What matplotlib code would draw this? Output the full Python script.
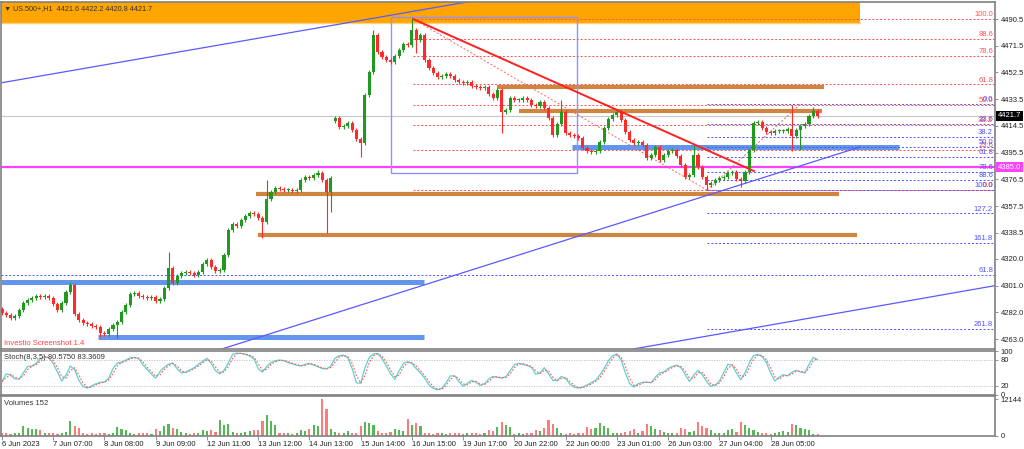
import numpy as np
import pandas as pd
import matplotlib
matplotlib.use("Agg")
import matplotlib.pyplot as plt
from matplotlib.patches import Rectangle
from matplotlib.transforms import blended_transform_factory

plt.rcParams['font.family'] = ['Liberation Sans', 'DejaVu Sans']

# ---------------- data (2-hour candles, US.500+) ----------------
closes = [4281.5, 4280.1, 4277.9, 4279.4, 4283.6, 4288.6, 4290.7, 4292.2, 4293.6, 4292.9,
          4293.6, 4292.2, 4287.9, 4283.6, 4288.6, 4296.4, 4301.4, 4280.8, 4276.5, 4274.4,
          4273.7, 4272.2, 4271.5, 4267.3, 4266.6, 4270.1, 4273.0, 4275.1, 4282.2, 4287.2,
          4295.0, 4295.7, 4293.6, 4292.9, 4292.2, 4292.9, 4290.0, 4291.4, 4299.3, 4313.5,
          4302.8, 4307.8, 4309.9, 4310.6, 4309.9, 4308.5, 4310.6, 4316.3, 4319.2, 4314.2,
          4311.3, 4312.1, 4322.7, 4340.5, 4344.8, 4343.3, 4347.6, 4350.4, 4352.6, 4351.9,
          4349.0, 4346.2, 4362.5, 4367.5, 4370.4, 4369.6, 4368.9, 4368.9, 4368.2, 4368.9,
          4376.0, 4378.2, 4377.5, 4379.6, 4381.0, 4376.0, 4367.5, 4377.5, 4420.1, 4413.7,
          4414.4, 4416.6, 4411.6, 4405.2, 4402.3, 4436.5, 4452.8, 4479.1, 4467.0, 4463.5,
          4461.3, 4459.9, 4464.2, 4468.5, 4472.7, 4472.0, 4482.7, 4475.6, 4479.1, 4461.3,
          4455.7, 4452.1, 4449.3, 4450.0, 4451.4, 4450.0, 4447.1, 4445.7, 4445.0, 4445.7,
          4442.9, 4442.2, 4441.4, 4442.2, 4437.2, 4434.3, 4440.0, 4424.4, 4425.8, 4434.3,
          4432.9, 4432.9, 4434.3, 4432.9, 4429.4, 4428.6, 4431.5, 4427.2, 4420.1, 4408.0,
          4415.8, 4424.4, 4409.4, 4408.0, 4407.3, 4405.9, 4398.8, 4396.7, 4395.9, 4396.7,
          4403.1, 4413.0, 4419.4, 4422.2, 4424.4, 4418.7, 4410.2, 4404.5, 4402.3, 4403.1,
          4400.9, 4391.7, 4393.8, 4399.5, 4390.3, 4393.8, 4396.7, 4397.4, 4393.1, 4386.7,
          4378.2, 4379.6, 4393.8, 4385.3, 4378.2, 4372.5, 4373.9, 4376.0, 4377.5, 4378.2,
          4381.0, 4381.7, 4376.7, 4375.3, 4381.7, 4397.4, 4416.6, 4417.3, 4413.0, 4410.2,
          4409.4, 4410.9, 4410.9, 4410.9, 4412.3, 4407.3, 4411.6, 4414.4, 4415.8, 4421.5,
          4425.1, 4421.7]
first_open = 4284.0
open_override = {78: 4418.0}
wick_high = {16: 4303.5, 39: 4324.8, 62: 4376.0, 74: 4383.0, 87: 4482.7, 96: 4490.5,
             131: 4433.0, 144: 4426.0, 162: 4400.9, 185: 4429.4, 190: 4427.9}
wick_low = {23: 4264.7, 27: 4264.0, 61: 4334.8, 76: 4338.4, 77: 4353.3, 84: 4392.4,
            97: 4466.3, 117: 4409.4, 165: 4368.9, 173: 4371.0, 185: 4397.0, 187: 4397.4}

volumes = [800, 700, 600, 700, 900, 3000, 2600, 2200, 2100, 1800,
           900, 700, 800, 600, 900, 1200, 4800, 3000, 2400, 800,
           600, 700, 500, 900, 700, 600, 800, 2900, 2200, 1800,
           700, 600, 900, 700, 800, 600, 2200, 1500, 3200, 3800,
           2500, 2000, 1200, 700, 600, 900, 800, 1700, 1500, 1900,
           1100, 5200, 3500, 3800, 1300, 900, 800, 1100, 1400, 1900,
           1700, 4800, 6900, 4700, 3500, 900, 700, 800, 600, 900,
           1900, 1500, 2200, 3500, 3000, 12144, 8900, 2200, 1200, 900,
           700, 1500, 800, 900, 3200, 4400, 4300, 3600, 1400, 900,
           800, 1100, 2200, 1900, 1500, 5500, 3500, 4000, 3300, 900,
           700, 600, 800, 700, 500, 900, 800, 700, 600, 900,
           700, 800, 600, 900, 1900, 1600, 2800, 4600, 3500, 2700,
           600, 700, 500, 800, 700, 1900, 1600, 2500, 5000, 3800,
           2600, 700, 600, 800, 500, 700, 900, 2800, 2000, 2400,
           4100, 3200, 2500, 800, 700, 900, 1200, 1500, 2100, 900,
           1400, 3900, 3000, 2000, 1800, 1200, 700, 800, 900, 2400,
           2000, 1100, 1500, 4600, 3200, 2400, 1800, 800, 700, 900,
           1900, 2200, 1000, 4600, 3500, 2400, 1800, 1000, 700, 800,
           600, 700, 1200, 1400, 1100, 3900, 3400, 2500, 2200, 1700,
           600, 500]

stoch_main = [30, 48, 45, 36, 36, 50, 65, 66, 72, 83,
              88, 85, 72, 52, 31, 45, 66, 58, 33, 18,
              15, 20, 25, 28, 29, 38, 60, 73, 75, 80,
              85, 86, 83, 69, 58, 47, 38, 53, 63, 70,
              73, 60, 50, 52, 57, 62, 70, 77, 84, 72,
              55, 48, 56, 73, 93, 96, 95, 93, 89, 83,
              60, 52, 65, 74, 78, 80, 78, 74, 71, 68,
              66, 70, 72, 68, 64, 60, 59, 66, 84, 90,
              91, 85, 60, 27, 26, 62, 86, 94, 95, 83,
              66, 48, 35, 55, 72, 76, 72, 60, 50, 38,
              22, 14, 11, 14, 27, 43, 43, 30, 19, 26,
              33, 28, 21, 25, 36, 42, 40, 38, 41, 55,
              69, 72, 70, 67, 63, 47, 50, 62, 48, 33,
              32, 42, 37, 24, 17, 15, 17, 22, 27, 33,
              45, 60, 78, 90, 94, 80, 50, 25, 17, 25,
              28, 29, 27, 40, 50, 52, 60, 65, 68, 62,
              46, 30, 45, 56, 46, 30, 19, 22, 31, 50,
              70, 68, 50, 34, 50, 73, 90, 93, 88, 74,
              50, 31, 40, 46, 43, 52, 56, 52, 50, 70,
              86, 80.6]

date_labels = ["6 Jun 2023", "7 Jun 07:00", "8 Jun 08:00", "9 Jun 09:00", "12 Jun 11:00",
               "13 Jun 12:00", "14 Jun 13:00", "15 Jun 14:00", "16 Jun 15:00", "19 Jun 17:00",
               "20 Jun 22:00", "22 Jun 00:00", "23 Jun 01:00", "26 Jun 03:00", "27 Jun 04:00",
               "28 Jun 05:00"]
label_step = 12

price_ticks = [4490.5, 4471.5, 4452.5, 4433.5, 4414.5, 4395.5, 4376.5, 4357.5,
               4338.5, 4320.0, 4301.0, 4282.0, 4263.0]
last_price = 4421.7
magenta_level = 4385.0

# drawn objects: (start bar, end bar, price)
orange_top_zone = (200.9, 4487.6)
orange_zones = [(115.9, 192.5, 4442.2), (121.1, 192.0, 4425.1),
                (59.5, 196.0, 4366.1), (60.0, 200.2, 4337.3)]
blue_zones = [(133.5, 210.1, 4399.5), (-0.3, 98.8, 4303.5), (22.5, 98.8, 4264.4)]
box = (91.0, 134.6, 4381.2, 4491.7)
red_trend = [(96.3, 4490.5), (176.1, 4382.4)]
channel_top = [(-0.47, 4445.0), (108.9, 4502.6)]
channel_bottom = [(151.8, 4258.0), (232.1, 4300.7)]
support_line = [(51.5, 4255.9), (200.9, 4399.5)]
fib_red = dict(start=96.3, end=165.1, hi=4490.5, lo=4368.9,
               levels=[0.0, 23.6, 38.2, 50.0, 61.8, 78.6, 88.6, 100.0])
fib_blue = dict(start=165.1, end=187.0, top=4430.1, lo=4368.9,
                levels=[0.0, 23.6, 38.2, 50.0, 61.8, 78.6, 88.6, 100.0, 127.2, 161.8, 261.8])
extra_level = (4308.5, "61.8")

# ---------------- figure ----------------
W, H = 1024, 449
fig = plt.figure(figsize=(W / 100, H / 100), dpi=100)
fig.patch.set_facecolor("white")


def frac(l, t, r, b):
    return [l / W, 1 - b / H, (r - l) / W, (b - t) / H]


ax = fig.add_axes(frac(1, 2, 995, 349))
axs = fig.add_axes(frac(1, 351, 995, 394.5))
axv = fig.add_axes(frac(1, 396, 995, 435.5))

n = len(closes)
x = np.arange(n)
xlim = (-0.23, 232.55)

for a in (ax, axs, axv):
    a.set_xlim(*xlim)
    for s in a.spines.values():
        s.set_color("#808080")
        s.set_linewidth(1.2)
    a.yaxis.tick_right()
    a.tick_params(axis="y", direction="out", length=2.5, width=0.6, colors="#808080",
                  labelsize=5.5, labelcolor="#222222", pad=1.5)
    a.set_xticks([])

# ---- main panel ----
ax.set_ylim(4255.9, 4502.6)
ax.set_yticks(price_ticks)
ax.set_yticklabels([f"{p:.1f}" for p in price_ticks])
bt = blended_transform_factory(ax.transAxes, ax.transData)

ax.add_patch(Rectangle((xlim[0], orange_top_zone[1]), orange_top_zone[0] - xlim[0], 30,
                       facecolor="#FFA500", edgecolor="none", zorder=1))
ax.axhline(orange_top_zone[1] + 0.4, xmin=0, xmax=(orange_top_zone[0] - xlim[0]) / (xlim[1] - xlim[0]),
           color="#ffd27a", lw=1, zorder=1)

for x0, x1, p in orange_zones:
    ax.plot([x0, x1], [p, p], color="#CD853F", lw=3.0, solid_capstyle="butt", zorder=2)
for x0, x1, p in blue_zones:
    ax.plot([x0, x1], [p, p], color="#6495ED", lw=3.6, solid_capstyle="butt", zorder=2)

ax.axhline(last_price, color="#c8c8c8", lw=0.8, zorder=1)
ax.axhline(magenta_level, color="#ff40ff", lw=1.6, zorder=2)
ax.axhline(extra_level[0], color="#5050ff", lw=0.7, ls=(0, (2, 2)), zorder=2)
ax.text(0.998, extra_level[0] + 0.6, extra_level[1], transform=bt, ha="right", va="bottom",
        fontsize=5.5, color="#5050ff")

# fibonacci levels (labels overlap where levels coincide, as in the platform)
rng = fib_red["hi"] - fib_red["lo"]
ax.plot([fib_red["start"], fib_red["end"]], [fib_red["hi"], fib_red["lo"]],
        color="#ff6060", lw=0.7, ls=(0, (2, 2)), zorder=2)
for lv in fib_red["levels"]:
    p = fib_red["lo"] + lv / 100 * rng
    ax.plot([fib_red["start"], xlim[1]], [p, p], color="#ff5050", lw=0.7, ls=(0, (2, 2)), zorder=2)
    ax.text(0.998, p + 0.6, f"{lv:.1f}", transform=bt, ha="right", va="bottom",
            fontsize=5.5, color="#ff5050", zorder=4)

rng = fib_blue["top"] - fib_blue["lo"]
ax.plot([fib_blue["start"], fib_blue["end"]], [fib_blue["lo"], fib_blue["top"]],
        color="#ff6060", lw=0.7, ls=(0, (2, 2)), zorder=2)
for lv in fib_blue["levels"]:
    p = fib_blue["top"] - lv / 100 * rng
    ax.plot([fib_blue["start"], xlim[1]], [p, p], color="#5050ff", lw=0.7, ls=(0, (2, 2)), zorder=2)
    ax.text(0.998, p + 0.6, f"{lv:.1f}", transform=bt, ha="right", va="bottom",
            fontsize=5.5, color="#5050ff", zorder=4)

# rectangle + trendlines
ax.add_patch(Rectangle((box[0], box[2]), box[1] - box[0], box[3] - box[2],
                       facecolor="none", edgecolor="#9090ff", lw=1.0, zorder=2))
ax.axline(channel_top[0], channel_top[1], color="#5a5aff", lw=0.9, zorder=2)
ax.axline(channel_bottom[0], channel_bottom[1], color="#5a5aff", lw=0.9, zorder=2)
ax.plot(*zip(*support_line), color="#5a5aff", lw=0.9, zorder=2)
ax.plot(*zip(*red_trend), color="#ff2020", lw=1.4, zorder=4)

# candles
opens = np.array([first_open] + closes[:-1])
for k, v in open_override.items():
    opens[k] = v
cl = np.array(closes)
up = cl >= opens
hi = np.maximum(opens, cl) + 1.5
lo = np.minimum(opens, cl) - 1.5
for k, v in wick_high.items():
    hi[k] = v
for k, v in wick_low.items():
    lo[k] = v
col = np.where(up, "#1f9a1f", "#ff2a2a")
ax.vlines(x, lo, hi, colors=col, lw=0.8, zorder=3)
body = np.maximum(np.abs(cl - opens), 0.8)
ax.bar(x, body, bottom=np.minimum(opens, cl), width=0.72, color=col, zorder=3, linewidth=0)

# price tags
ax.text(1.003, last_price, f"{last_price:.1f}", transform=bt, ha="left", va="center",
        fontsize=5.5, color="white", zorder=6, clip_on=False,
        bbox=dict(boxstyle="square,pad=0.2", fc="black", ec="none"))
ax.text(1.003, magenta_level, f"{magenta_level:.1f}", transform=bt, ha="left", va="center",
        fontsize=5.5, color="white", zorder=6, clip_on=False,
        bbox=dict(boxstyle="square,pad=0.2", fc="#ff40ff", ec="none"))

ax.text(0.003, 0.992, "\u25bc US.500+,H1  4421.6 4422.2 4420.8 4421.7", transform=ax.transAxes,
        ha="left", va="top", fontsize=5.2, color="#333333", zorder=6)
ax.text(0.003, 0.006, "Investio Screenshot 1.4", transform=ax.transAxes,
        ha="left", va="bottom", fontsize=5.5, color="#ff4040", zorder=6)

# ---- stochastic ----
main = pd.Series(stoch_main, dtype=float)
signal = main.rolling(2, min_periods=1).mean()
axs.set_ylim(0.4, 100.8)
axs.set_yticks([0, 20, 80, 100])
axs.axhline(80, color="#c0c0c0", lw=0.6, ls=(0, (1.5, 1.5)))
axs.axhline(20, color="#c0c0c0", lw=0.6, ls=(0, (1.5, 1.5)))
axs.plot(x, main, color="#5fd0d0", lw=0.9, zorder=3)
axs.plot(x, signal, color="#ff5a5a", lw=0.8, ls=(0, (1.5, 1.5)), zorder=4)
axs.text(0.003, 0.93, "Stoch(8,3,5) 80.5750 83.3609", transform=axs.transAxes,
         ha="left", va="top", fontsize=5.5, color="#333333")

# ---- volumes ----
vcol = np.where(up, "#55b855", "#ff7a7a")
axv.bar(x, volumes, width=0.5, color=vcol, linewidth=0)
axv.set_ylim(0, 13150)
axv.set_yticks([0, 12144])
axv.set_yticklabels(["0", "12144"])
axv.text(0.003, 0.9, "Volumes 152", transform=axv.transAxes,
         ha="left", va="top", fontsize=5.5, color="#333333")
axv.set_xticks(np.arange(len(date_labels)) * label_step)
axv.set_xticklabels(date_labels)
axv.tick_params(axis="x", direction="out", length=3, width=0.6, colors="#808080",
                labelsize=5.5, labelcolor="#222222", pad=1)
for lbl in axv.get_xticklabels():
    lbl.set_ha("left")

fig.savefig("out.png", dpi=100)
